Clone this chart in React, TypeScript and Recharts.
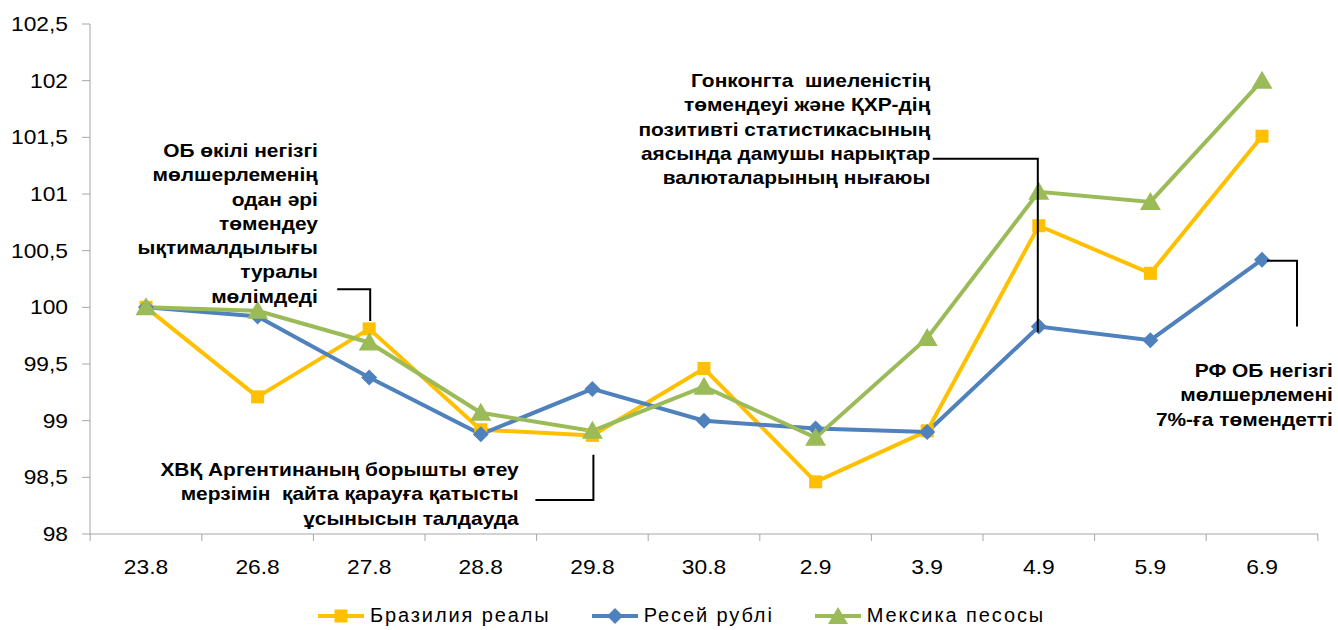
import { Legend, Line, LineChart, XAxis, YAxis } from "recharts";

const dates = ["23.8", "26.8", "27.8", "28.8", "29.8", "30.8", "2.9", "3.9", "4.9", "5.9", "6.9"];
const brazil = [100, 99.21, 99.81, 98.92, 98.87, 99.46, 98.46, 98.91, 100.72, 100.3, 101.51];
const russia = [100, 99.92, 99.38, 98.88, 99.28, 99.0, 98.93, 98.9, 99.83, 99.71, 100.42];
const mexico = [100, 99.97, 99.69, 99.07, 98.91, 99.3, 98.85, 99.73, 101.02, 100.93, 102.0];
const yTicks = [98, 98.5, 99, 99.5, 100, 100.5, 101, 101.5, 102, 102.5];

const seriesNames = ["Бразилия реалы", "Ресей рублі", "Мексика песосы"];

const notes = [
  ["ОБ өкілі негізгі", "мөлшерлеменің", "одан әрі", "төмендеу", "ықтималдылығы", "туралы", "мөлімдеді"],
  ["ХВҚ Аргентинаның борышты өтеу", "мерзімін  қайта қарауға қатысты", "ұсынысын талдауда"],
  ["Гонконгта  шиеленістің", "төмендеуі және ҚХР-дің", "позитивті статистикасының", "аясында дамушы нарықтар", "валюталарының нығаюы"],
  ["РФ ОБ негізгі", "мөлшерлемені", "7%-ға төмендетті"],
];

const data = dates.map((date, i) => ({
  date,
  brazil: brazil[i],
  russia: russia[i],
  mexico: mexico[i],
}));

const W = 1338;
const H = 630;
const LEFT = 90;
const RIGHT = 1318;
const TOP = 24;
const BOTTOM = 534;
const PAD = 56;
const STEP = (RIGHT - LEFT - 2 * PAD) / (dates.length - 1);
const Y_MIN = 98;
const Y_MAX = 102.5;
const STRETCH = 1.14; // the source text is a bit wider than plain Arial

const YELLOW = "#FFC000";
const BLUE = "#4F81BD";
const GREEN = "#9BBB59";
const AXIS = "#A6A6A6";
const FONT = "Arial, 'Liberation Sans', sans-serif";

const xAt = (i: number) => LEFT + PAD + i * STEP;
const yAt = (v: number) => BOTTOM - ((v - Y_MIN) / (Y_MAX - Y_MIN)) * (BOTTOM - TOP);

// connector polylines, anchored to category index / value
const connectors = [
  [[xAt(2) - 32, yAt(100.16)], [xAt(2) + 1, yAt(100.16)], [xAt(2) + 1, yAt(99.88)]],
  [[xAt(4) - 57, yAt(98.3)], [xAt(4) + 1, yAt(98.3)], [xAt(4) + 1, yAt(98.7)]],
  [[xAt(8) - 106, yAt(101.31)], [xAt(8) - 1, yAt(101.31)], [xAt(8) - 1, yAt(99.78)]],
  [[xAt(10) + 5, yAt(100.41)], [xAt(10) + 35, yAt(100.41)], [xAt(10) + 35, yAt(99.83)]],
];

// right edge and first-line top of each note
const notePos = [
  { right: 318, top: 139 },
  { right: 519, top: 458 },
  { right: 930, top: 69 },
  { right: 1333, top: 359 },
];

const Square = (p: any) => {
  if (p.cx == null || p.cy == null) return null;
  return <rect x={p.cx - 6.5} y={p.cy - 6.5} width={13} height={13} fill={YELLOW} />;
};

const Diamond = (p: any) => {
  if (p.cx == null || p.cy == null) return null;
  const r = 8;
  return (
    <polygon
      points={`${p.cx},${p.cy - r} ${p.cx + r},${p.cy} ${p.cx},${p.cy + r} ${p.cx - r},${p.cy}`}
      fill={BLUE}
    />
  );
};

const Triangle = (p: any) => {
  if (p.cx == null || p.cy == null) return null;
  return (
    <polygon
      points={`${p.cx},${p.cy - 10} ${p.cx + 10.5},${p.cy + 8} ${p.cx - 10.5},${p.cy + 8}`}
      fill={GREEN}
    />
  );
};

const XTick = (p: any) => {
  const last = p.index === dates.length - 1;
  return (
    <g>
      <line x1={p.x - STEP / 2} x2={p.x - STEP / 2} y1={BOTTOM} y2={BOTTOM + 7} stroke={AXIS} />
      {last && <line x1={p.x + STEP / 2} x2={p.x + STEP / 2} y1={BOTTOM} y2={BOTTOM + 7} stroke={AXIS} />}
      <text
        transform={`translate(${p.x},${BOTTOM + 40}) scale(${STRETCH},1)`}
        textAnchor="middle"
        fontSize={20}
        fill="#000"
        fontFamily={FONT}
      >
        {p.payload.value}
      </text>
    </g>
  );
};

const YTick = (p: any) => (
  <text
    transform={`translate(${p.x},${p.y}) scale(${STRETCH},1)`}
    dy="0.355em"
    textAnchor="end"
    fontSize={20}
    fill="#000"
    fontFamily={FONT}
  >
    {String(p.payload.value).replace(".", ",")}
  </text>
);

function LegendIcon({ color, kind }: { color: string; kind: number }) {
  return (
    <svg width={48} height={20} style={{ display: "block" }}>
      <line x1={1} x2={47} y1={10} y2={10} stroke={color} strokeWidth={4} />
      {kind === 0 && <rect x={17.5} y={3.5} width={13} height={13} fill={color} />}
      {kind === 1 && <polygon points="24,2 32,10 24,18 16,10" fill={color} />}
      {kind === 2 && <polygon points="24,1 34,18 14,18" fill={color} />}
    </svg>
  );
}

const renderLegend = () => {
  const colors = [YELLOW, BLUE, GREEN];
  return (
    <div
      style={{
        display: "flex",
        justifyContent: "center",
        gap: 40,
        paddingTop: 29,
        paddingLeft: 44,
        height: 23,
        lineHeight: "23px",
        alignItems: "center",
        fontFamily: FONT,
        fontSize: 20,
        letterSpacing: 1.9,
        color: "#000",
      }}
    >
      {seriesNames.map((n, i) => (
        <div key={n} style={{ display: "flex", alignItems: "center", gap: 5 }}>
          <LegendIcon color={colors[i]} kind={i} />
          <span>{n}</span>
        </div>
      ))}
    </div>
  );
};

export default function App() {
  return (
    <div style={{ position: "absolute", left: 0, top: 0, width: W, height: H, background: "#fff" }}>
      <LineChart width={W} height={H} data={data} margin={{ top: TOP, right: W - RIGHT, left: 0, bottom: 5 }}>
        <XAxis
          dataKey="date"
          padding={{ left: PAD, right: PAD }}
          axisLine={{ stroke: AXIS }}
          tickLine={false}
          tick={XTick}
          height={41}
          interval={0}
        />
        <YAxis
          domain={[Y_MIN, Y_MAX]}
          ticks={yTicks}
          width={LEFT}
          tick={YTick}
          axisLine={{ stroke: AXIS }}
          tickLine={{ stroke: AXIS }}
          tickSize={8}
          tickMargin={14}
          interval={0}
        />
        <Legend verticalAlign="bottom" height={50} content={renderLegend} />
        <Line
          dataKey="brazil"
          name={seriesNames[0]}
          stroke={YELLOW}
          strokeWidth={4}
          dot={Square}
          activeDot={false}
          isAnimationActive={false}
        />
        <Line
          dataKey="russia"
          name={seriesNames[1]}
          stroke={BLUE}
          strokeWidth={4}
          dot={Diamond}
          activeDot={false}
          isAnimationActive={false}
        />
        <Line
          dataKey="mexico"
          name={seriesNames[2]}
          stroke={GREEN}
          strokeWidth={4}
          dot={Triangle}
          activeDot={false}
          isAnimationActive={false}
        />
      </LineChart>
      <svg width={W} height={H} style={{ position: "absolute", left: 0, top: 0, pointerEvents: "none" }}>
        {connectors.map((pts, i) => (
          <polyline
            key={i}
            points={pts.map((p) => p.join(",")).join(" ")}
            fill="none"
            stroke="#000"
            strokeWidth={2}
          />
        ))}
      </svg>
      {notes.map((lines, i) => (
        <div
          key={i}
          style={{
            position: "absolute",
            right: W - notePos[i].right,
            top: notePos[i].top,
            textAlign: "right",
            whiteSpace: "pre",
            fontFamily: FONT,
            fontWeight: "bold",
            fontSize: 19,
            lineHeight: "24.3px",
            color: "#000",
            transform: "scaleX(1.1)",
            transformOrigin: "right top",
          }}
        >
          {lines.join("\n")}
        </div>
      ))}
    </div>
  );
}
